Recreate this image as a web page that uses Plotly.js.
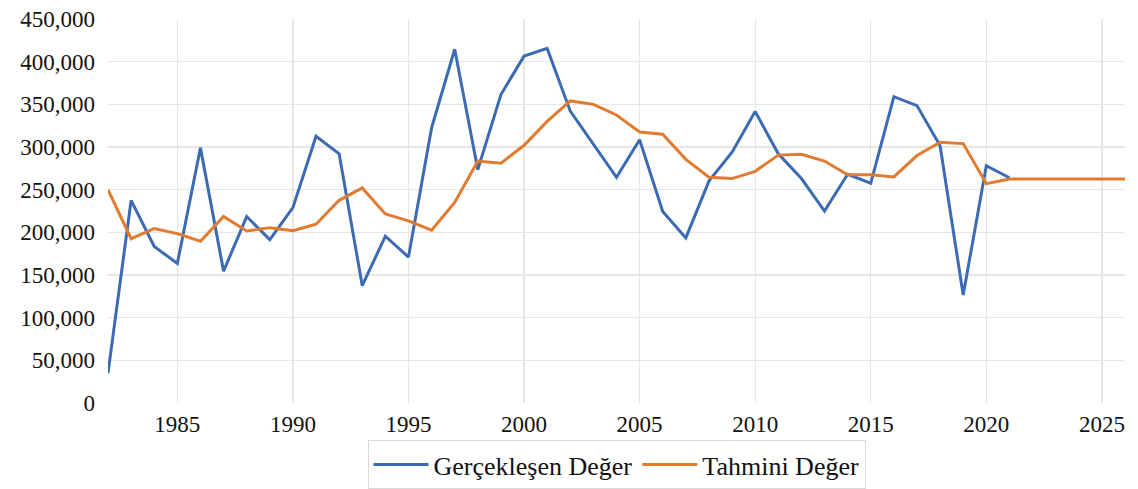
<!DOCTYPE html>
<html>
<head>
<meta charset="utf-8">
<script src="https://cdn.plot.ly/plotly-3.0.1.min.js"></script>
<style>html,body{margin:0;padding:0;background:#fff;}#chart{width:1138px;height:489px;}</style>
</head>
<body>
<div id="chart"></div>
<script>
const years = [1982,1983,1984,1985,1986,1987,1988,1989,1990,1991,1992,1993,1994,1995,1996,1997,1998,1999,2000,2001,2002,2003,2004,2005,2006,2007,2008,2009,2010,2011,2012,2013,2014,2015,2016,2017,2018,2019,2020,2021,2022,2023,2024,2025,2026];
const actualYears = [1982,1983,1984,1985,1986,1987,1988,1989,1990,1991,1992,1993,1994,1995,1996,1997,1998,1999,2000,2001,2002,2003,2004,2005,2006,2007,2008,2009,2010,2011,2012,2013,2014,2015,2016,2017,2018,2019,2020,2021];
const actual = [35000,237500,183500,163500,299000,154500,218500,191500,229000,312500,292000,137500,195500,171000,322500,414500,273500,361500,406500,415500,342000,303500,264500,308500,224500,193500,260000,294000,341500,292000,263000,225000,268000,257500,359000,348500,301500,126500,278000,264000];
const forecast = [250000,192500,204500,198500,189500,218500,201500,205500,202000,209500,237500,252000,221500,213500,202500,235000,283500,281000,302000,330000,354000,350000,337500,317500,315000,285500,264500,263000,271500,290500,291500,283500,267500,267500,265000,290000,305500,304000,257000,262500,262500,262500,262500,262500,262500];
const yTicks = [0,50000,100000,150000,200000,250000,300000,350000,400000,450000];
const gridTicks = [50000,100000,150000,200000,250000,300000,350000,400000];
const xTicks = [1985,1990,1995,2000,2005,2010,2015,2020,2025];
const seriesNames = ['Gerçekleşen Değer','Tahmini Değer'];

const fontFam = 'Liberation Serif';
const tickFont = {family: fontFam, size: 23, color: '#111'};
const data = [
  {x: actualYears, y: actual, type: 'scatter', mode: 'lines', name: seriesNames[0],
   line: {color: '#3D6BB3', width: 3}},
  {x: years, y: forecast, type: 'scatter', mode: 'lines', name: seriesNames[1],
   line: {color: '#E07B2F', width: 3}},
  {x: [years[0]], y: [null], type: 'scatter', mode: 'lines', yaxis: 'y2', showlegend: false, hoverinfo: 'skip'}
];
const layout = {
  width: 1138, height: 489,
  margin: {l: 107.5, r: 13, t: 18.5, b: 86, autoexpand: false},
  paper_bgcolor: '#fff', plot_bgcolor: '#fff',
  font: {family: fontFam, color: '#111', size: 23},
  showlegend: true,
  legend: {orientation: 'h', x: 0.5, xanchor: 'center', yref: 'container', y: 0.0, yanchor: 'bottom',
    bordercolor: '#d9d9d9', borderwidth: 1, bgcolor: '#fff',
    font: {family: fontFam, size: 26, color: '#111'}, itemwidth: 55, tracegroupgap: 0},
  xaxis: {range: [1982, 2026], tickvals: xTicks, ticktext: xTicks.map(String),
    showgrid: true, gridcolor: '#e6e6e6', gridwidth: 1.3, zeroline: false, showline: false,
    ticks: '', ticklabelstandoff: 5, tickfont: tickFont, automargin: false},
  yaxis: {range: [0, 450000], tickvals: gridTicks,
    showgrid: true, gridcolor: '#e6e6e6', gridwidth: 1.3, showticklabels: false,
    zeroline: false, showline: false, ticks: '', automargin: false},
  yaxis2: {range: [0, 450000], overlaying: 'y', side: 'left', tickvals: yTicks,
    ticktext: yTicks.map(v => v.toLocaleString('en-US')),
    showgrid: false, zeroline: false, showline: false, ticks: '', ticklabelstandoff: 12,
    tickfont: tickFont, automargin: false}
};
Plotly.newPlot('chart', data, layout, {displayModeBar: false, staticPlot: true});
</script>
</body>
</html>
